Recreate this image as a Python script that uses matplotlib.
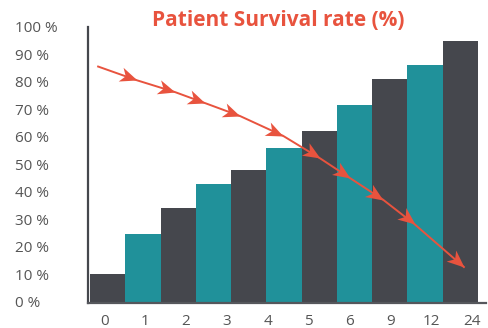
import numpy as np
import matplotlib
matplotlib.use("Agg")
import matplotlib.pyplot as plt
from matplotlib.path import Path
from matplotlib.markers import MarkerStyle
from matplotlib.transforms import Affine2D

plt.rcParams['font.family'] = ['Open Sans', 'DejaVu Sans']

# bar heights (%), alternating dark / teal
bar_values = [10, 24.5, 34, 43, 48, 56, 62, 71.5, 81, 86, 95]
bar_colors = ['#45474d', '#20919a'] * 6

# x tick labels (months)
month_labels = ['0', '1', '2', '3', '4', '5', '6', '9', '12', '24']

# survival line, in bar-index units along x
survival_x = [-0.27, 0.83, 1.91, 2.76, 3.75, 4.97, 6.02, 6.87, 7.81, 8.71, 10.10]
survival_y = [85.6, 80.6, 76.3, 72.3, 67.6, 60.4, 52.2, 45.0, 37.1, 28.1, 12.6]

red = '#e8533e'
dark = '#45474d'
text_col = '#555555'

fig = plt.figure(figsize=(4.89, 3.28), dpi=100)
ax = fig.add_axes([88 / 489, 25 / 328, 398 / 489, 276 / 328])

x = np.arange(len(bar_values))
ax.bar(x, bar_values, width=1.0, color=bar_colors[:len(bar_values)],
       linewidth=0, zorder=2)

ax.set_xlim(-0.557, 10.727)
ax.set_ylim(-0.5, 99.3)

ax.plot(survival_x, survival_y, color=red, lw=1.4, zorder=3)

# notched arrow head, tip at origin pointing along +x
head = Path([(0, 0), (-1.0, 0.42), (-0.72, 0), (-1.0, -0.42), (0, 0)],
            [Path.MOVETO, Path.LINETO, Path.LINETO, Path.LINETO, Path.CLOSEPOLY])
pts = ax.transData.transform(np.column_stack([survival_x, survival_y]))
for i in range(1, len(survival_x)):
    dx, dy = pts[i] - pts[i - 1]
    ang = np.degrees(np.arctan2(dy, dx))
    m = MarkerStyle(head, transform=Affine2D().rotate_deg(ang))
    ax.plot(survival_x[i], survival_y[i], marker=m, markersize=25,
            color=red, markeredgewidth=0, zorder=4)

ax.set_yticks(np.arange(0, 101, 10))
ax.set_yticklabels([f'{v} %' for v in range(0, 101, 10)])
ax.tick_params(axis='y', length=0, pad=52.5, labelsize=11, labelcolor=text_col)
for lbl in ax.get_yticklabels():
    lbl.set_horizontalalignment('left')

ax.set_xticks(np.linspace(-0.1, 10.33, len(month_labels)))
ax.set_xticklabels(month_labels)
ax.tick_params(axis='x', length=0, pad=8, labelsize=11, labelcolor=text_col)

for side in ['top', 'right']:
    ax.spines[side].set_visible(False)
ax.spines['left'].set_color(dark)
ax.spines['left'].set_linewidth(1.6)
ax.spines['bottom'].set_color('#55575c')
ax.spines['bottom'].set_linewidth(1.6)

fig.text(278 / 489, 1 - 21 / 328, 'Patient Survival rate (%)', color=red,
         fontsize=15, fontweight='bold', ha='center', va='center')

fig.savefig('out.png', dpi=100)
